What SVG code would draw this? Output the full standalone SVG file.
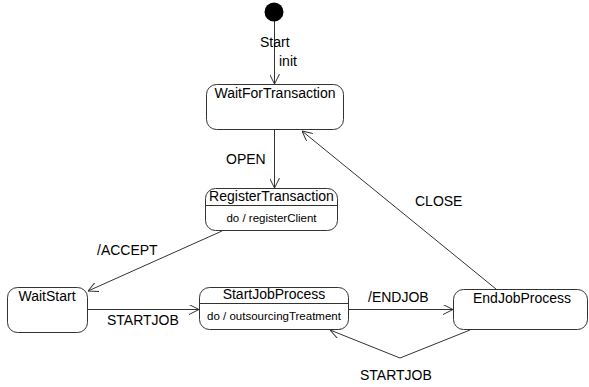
<svg xmlns="http://www.w3.org/2000/svg" width="589" height="387" viewBox="0 0 589 387">
<defs>
<marker id="arr" viewBox="0 0 10 10" refX="10" refY="5" markerWidth="10" markerHeight="10" markerUnits="userSpaceOnUse" orient="auto">
<path d="M0,0 L10,5 L0,10" fill="none" stroke="#333" stroke-width="1"/>
</marker>
<style>
.st{fill:#fff;stroke:#333;stroke-width:1}
.t{font-family:"Liberation Sans",Arial,sans-serif;font-size:14px;fill:#000}
.s{font-family:"Liberation Sans",Arial,sans-serif;font-size:11.5px;fill:#000}
.c{fill:none;stroke:#333;stroke-width:1;marker-end:url(#arr)}
</style>
</defs>
<rect width="589" height="387" fill="#fff"/>
<g id="connectors">
<line class="c" x1="274.5" y1="21" x2="274.5" y2="84"/>
<line class="c" x1="274.5" y1="130" x2="274.5" y2="188"/>
<line class="c" x1="222" y1="231" x2="88" y2="291"/>
<line class="c" x1="87" y1="309.5" x2="199" y2="309.5"/>
<line class="c" x1="349" y1="309.5" x2="453" y2="309.5"/>
<line class="c" x1="496" y1="289" x2="302" y2="131"/>
<polyline class="c" points="470,330 400,358 330,330"/>
<text class="t" x="260" y="47">Start</text>
<text class="t" x="279" y="66">init</text>
<text class="t" x="226" y="164">OPEN</text>
<text class="t" x="97" y="255">/ACCEPT</text>
<text class="t" x="107" y="325">STARTJOB</text>
<text class="t" x="368" y="302">/ENDJOB</text>
<text class="t" x="415" y="206">CLOSE</text>
<text class="t" x="360" y="380">STARTJOB</text>
</g>
<g id="initial"><circle cx="274" cy="12" r="9.5" fill="#000"/></g>
<g id="WaitForTransaction">
<rect class="st" x="206.5" y="84.5" width="137" height="45" rx="10"/>
<text class="t" x="275" y="98" text-anchor="middle">WaitForTransaction</text>
</g>
<g id="RegisterTransaction">
<rect class="st" x="205.5" y="188.5" width="132" height="42" rx="10"/>
<line x1="205.5" y1="205.5" x2="337.5" y2="205.5" stroke="#333"/>
<text class="t" x="271.5" y="201" text-anchor="middle">RegisterTransaction</text>
<text class="s" x="271.5" y="222" text-anchor="middle">do / registerClient</text>
</g>
<g id="WaitStart">
<rect class="st" x="7.5" y="287.5" width="80" height="45" rx="10"/>
<text class="t" x="47" y="301" text-anchor="middle">WaitStart</text>
</g>
<g id="StartJobProcess">
<rect class="st" x="199.5" y="287.5" width="149" height="42" rx="10"/>
<line x1="199.5" y1="303.5" x2="348.5" y2="303.5" stroke="#333"/>
<text class="t" x="274" y="299" text-anchor="middle">StartJobProcess</text>
<text class="s" x="274" y="320" text-anchor="middle">do / outsourcingTreatment</text>
</g>
<g id="EndJobProcess">
<rect class="st" x="453.5" y="289.5" width="134" height="40" rx="10"/>
<text class="t" x="522" y="303" text-anchor="middle">EndJobProcess</text>
</g>
</svg>
